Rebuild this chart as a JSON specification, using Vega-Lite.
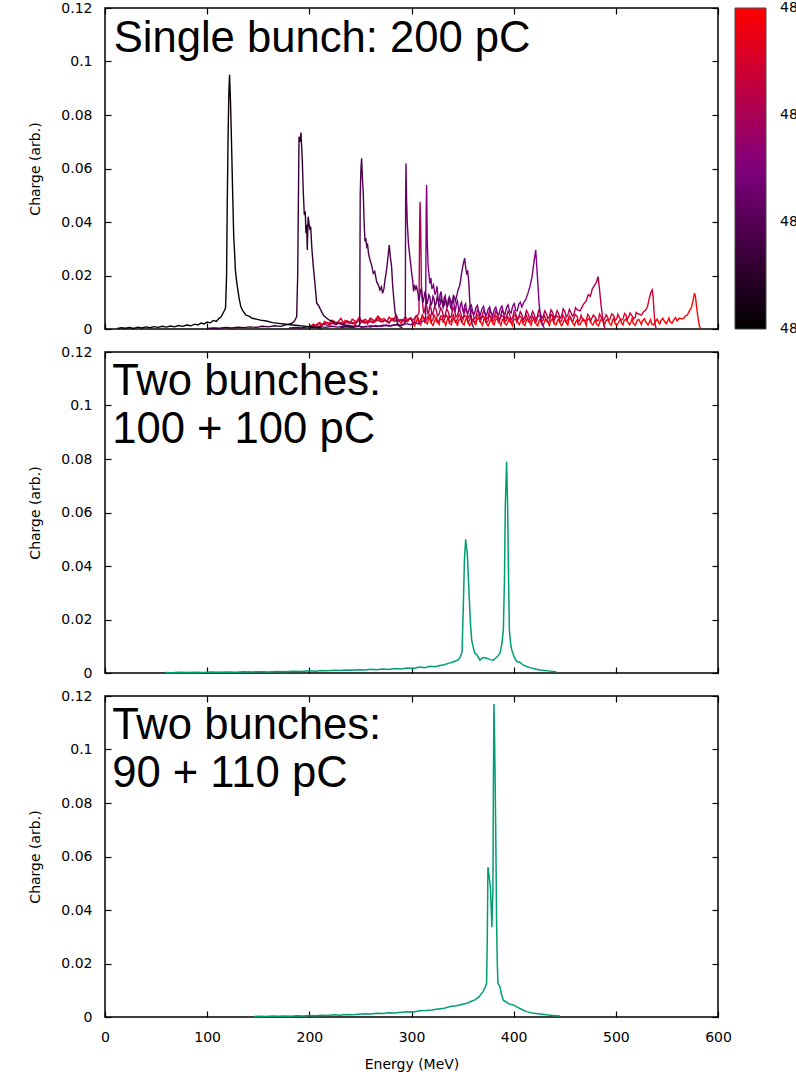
{
"$schema": "https://vega.github.io/schema/vega-lite/v6.json",
"padding": {"left": 28, "top": 0, "right": 0, "bottom": 0},
"bounds": "flush",
"spacing": 23,
"config": {
  "view": {"stroke": "black", "strokeWidth": 1.5},
  "axis": {"grid": false, "domain": false, "tickSize": -6, "tickColor": "black", "tickWidth": 1.2, "labelFont": "DejaVu Sans", "labelFontSize": 14, "labelColor": "black", "labelPadding": 19, "labelFlush": false, "titleFont": "DejaVu Sans", "titleFontSize": 14, "titleFontWeight": "normal", "titleColor": "black", "titlePadding": 18}
},
"vconcat": [
{
  "width": 613, "height": 321,
  "data": {"values": [
{"r":4830,"e":200,"q":0.0008},{"r":4830,"e":203,"q":0.0015},{"r":4830,"e":205,"q":0.0010},{"r":4830,"e":209,"q":0.0022},{"r":4830,"e":212,"q":0.0012},{"r":4830,"e":214,"q":0.0018},{"r":4830,"e":218,"q":0.0025},{"r":4830,"e":220,"q":0.0014},{"r":4830,"e":224,"q":0.0030},{"r":4830,"e":226,"q":0.0018},{"r":4830,"e":230,"q":0.0024},{"r":4830,"e":233,"q":0.0016},{"r":4830,"e":235,"q":0.0032},{"r":4830,"e":239,"q":0.0020},{"r":4830,"e":241,"q":0.0027},{"r":4830,"e":245,"q":0.0017},{"r":4830,"e":248,"q":0.0035},{"r":4830,"e":250,"q":0.0022},{"r":4830,"e":254,"q":0.0030},{"r":4830,"e":257,"q":0.0019},{"r":4830,"e":259,"q":0.0038},{"r":4830,"e":263,"q":0.0024},{"r":4830,"e":266,"q":0.0031},{"r":4830,"e":268,"q":0.0045},{"r":4830,"e":272,"q":0.0026},{"r":4830,"e":274,"q":0.0034},{"r":4830,"e":278,"q":0.0022},{"r":4830,"e":281,"q":0.0040},{"r":4830,"e":283,"q":0.0028},{"r":4830,"e":287,"q":0.0033},{"r":4830,"e":290,"q":0.0021},{"r":4830,"e":292,"q":0.0036},{"r":4830,"e":296,"q":0.0027},{"r":4830,"e":299,"q":0.0042},{"r":4830,"e":301,"q":0.0025},{"r":4830,"e":305,"q":0.0032},{"r":4830,"e":308,"q":0.0020},{"r":4830,"e":310,"q":0.0038},{"r":4830,"e":314,"q":0.0027},{"r":4830,"e":317,"q":0.0045},{"r":4830,"e":319,"q":0.0024},{"r":4830,"e":323,"q":0.0033},{"r":4830,"e":326,"q":0.0022},{"r":4830,"e":328,"q":0.0039},{"r":4830,"e":332,"q":0.0028},{"r":4830,"e":335,"q":0.0035},{"r":4830,"e":337,"q":0.0021},{"r":4830,"e":341,"q":0.0041},{"r":4830,"e":344,"q":0.0026},{"r":4830,"e":346,"q":0.0031},{"r":4830,"e":350,"q":0.0020},{"r":4830,"e":353,"q":0.0037},{"r":4830,"e":355,"q":0.0025},{"r":4830,"e":359,"q":0.0030},{"r":4830,"e":362,"q":0.0019},{"r":4830,"e":364,"q":0.0034},{"r":4830,"e":368,"q":0.0024},{"r":4830,"e":371,"q":0.0040},{"r":4830,"e":373,"q":0.0023},{"r":4830,"e":377,"q":0.0029},{"r":4830,"e":380,"q":0.0018},{"r":4830,"e":382,"q":0.0033},{"r":4830,"e":386,"q":0.0025},{"r":4830,"e":389,"q":0.0036},{"r":4830,"e":391,"q":0.0021},{"r":4830,"e":395,"q":0.0030},{"r":4830,"e":398,"q":0.0019},{"r":4830,"e":400,"q":0.0034},{"r":4830,"e":404,"q":0.0026},{"r":4830,"e":407,"q":0.0031},{"r":4830,"e":409,"q":0.0020},{"r":4830,"e":413,"q":0.0037},{"r":4830,"e":416,"q":0.0023},{"r":4830,"e":418,"q":0.0029},{"r":4830,"e":422,"q":0.0018},{"r":4830,"e":425,"q":0.0032},{"r":4830,"e":427,"q":0.0024},{"r":4830,"e":431,"q":0.0035},{"r":4830,"e":434,"q":0.0021},{"r":4830,"e":436,"q":0.0028},{"r":4830,"e":440,"q":0.0019},{"r":4830,"e":443,"q":0.0033},{"r":4830,"e":445,"q":0.0025},{"r":4830,"e":449,"q":0.0030},{"r":4830,"e":452,"q":0.0020},{"r":4830,"e":454,"q":0.0036},{"r":4830,"e":458,"q":0.0022},{"r":4830,"e":461,"q":0.0029},{"r":4830,"e":463,"q":0.0018},{"r":4830,"e":467,"q":0.0031},{"r":4830,"e":470,"q":0.0024},{"r":4830,"e":472,"q":0.0034},{"r":4830,"e":476,"q":0.0021},{"r":4830,"e":479,"q":0.0027},{"r":4830,"e":481,"q":0.0019},{"r":4830,"e":485,"q":0.0032},{"r":4830,"e":488,"q":0.0025},{"r":4830,"e":490,"q":0.0030},{"r":4830,"e":494,"q":0.0020},{"r":4830,"e":497,"q":0.0035},{"r":4830,"e":499,"q":0.0023},{"r":4830,"e":503,"q":0.0028},{"r":4830,"e":506,"q":0.0019},{"r":4830,"e":508,"q":0.0031},{"r":4830,"e":512,"q":0.0024},{"r":4830,"e":515,"q":0.0029},{"r":4830,"e":517,"q":0.0021},{"r":4830,"e":521,"q":0.0033},{"r":4830,"e":524,"q":0.0025},{"r":4830,"e":526,"q":0.0030},{"r":4830,"e":530,"q":0.0022},{"r":4830,"e":533,"q":0.0027},{"r":4830,"e":535,"q":0.0020},{"r":4830,"e":539,"q":0.0029},{"r":4830,"e":542,"q":0.0024},{"r":4830,"e":544,"q":0.0031},{"r":4830,"e":548,"q":0.0026},{"r":4830,"e":551,"q":0.0033},{"r":4830,"e":553,"q":0.0028},{"r":4830,"e":557,"q":0.0036},{"r":4830,"e":560,"q":0.0030},{"r":4830,"e":562,"q":0.0040},{"r":4830,"e":566,"q":0.0038},{"r":4830,"e":568,"q":0.0048},{"r":4830,"e":570,"q":0.0052},{"r":4830,"e":572,"q":0.0068},{"r":4830,"e":574,"q":0.0080},{"r":4830,"e":575.5,"q":0.0105},{"r":4830,"e":577,"q":0.0134},{"r":4830,"e":578,"q":0.0120},{"r":4830,"e":579,"q":0.0084},{"r":4830,"e":580.5,"q":0.0040},{"r":4830,"e":582,"q":0.0008},{"r":4830,"e":583,"q":0.0002},
{"r":4830,"e":303,"q":0.0012},{"r":4830,"e":306.5,"q":0.0041},{"r":4830,"e":309,"q":0.0015},{"r":4830,"e":312,"q":0.0044},{"r":4830,"e":315.5,"q":0.0019},{"r":4830,"e":318,"q":0.0036},{"r":4830,"e":321,"q":0.0013},{"r":4830,"e":324.5,"q":0.0042},{"r":4830,"e":327,"q":0.0017},{"r":4830,"e":330,"q":0.0034},{"r":4830,"e":333.5,"q":0.0014},{"r":4830,"e":336,"q":0.0043},{"r":4830,"e":339,"q":0.0016},{"r":4830,"e":342.5,"q":0.0033},{"r":4830,"e":345,"q":0.0012},{"r":4830,"e":348,"q":0.0039},{"r":4830,"e":351.5,"q":0.0015},{"r":4830,"e":354,"q":0.0041},{"r":4830,"e":357,"q":0.0013},{"r":4830,"e":360.5,"q":0.0036},{"r":4830,"e":363,"q":0.0017},{"r":4830,"e":366,"q":0.0042},{"r":4830,"e":369.5,"q":0.0014},{"r":4830,"e":372,"q":0.0035},{"r":4830,"e":375,"q":0.0012},{"r":4830,"e":378.5,"q":0.0040},{"r":4830,"e":381,"q":0.0016},{"r":4830,"e":384,"q":0.0038},{"r":4830,"e":387.5,"q":0.0013},{"r":4830,"e":390,"q":0.0037},{"r":4830,"e":393,"q":0.0015},{"r":4830,"e":396.5,"q":0.0041},{"r":4830,"e":399,"q":0.0012},{"r":4830,"e":402,"q":0.0036},{"r":4830,"e":405.5,"q":0.0016},{"r":4830,"e":408,"q":0.0039},{"r":4830,"e":411,"q":0.0013},{"r":4830,"e":414.5,"q":0.0035},{"r":4830,"e":417,"q":0.0014},{"r":4830,"e":420,"q":0.0040},{"r":4830,"e":423.5,"q":0.0012},{"r":4830,"e":426,"q":0.0037},{"r":4830,"e":429,"q":0.0015},{"r":4830,"e":432.5,"q":0.0034},{"r":4830,"e":435,"q":0.0013},{"r":4830,"e":438,"q":0.0039},{"r":4830,"e":441.5,"q":0.0016},{"r":4830,"e":444,"q":0.0036},{"r":4830,"e":447,"q":0.0012},{"r":4830,"e":450.5,"q":0.0038},{"r":4830,"e":453,"q":0.0015},{"r":4830,"e":456,"q":0.0040},{"r":4830,"e":459.5,"q":0.0013},{"r":4830,"e":462,"q":0.0034},{"r":4830,"e":465,"q":0.0016},{"r":4830,"e":468.5,"q":0.0037},{"r":4830,"e":471,"q":0.0013},{"r":4830,"e":474,"q":0.0039},{"r":4830,"e":477.5,"q":0.0015},{"r":4830,"e":480,"q":0.0035},{"r":4830,"e":483,"q":0.0012},{"r":4830,"e":486.5,"q":0.0038},{"r":4830,"e":489,"q":0.0016},{"r":4830,"e":492,"q":0.0036},{"r":4830,"e":495.5,"q":0.0014},{"r":4830,"e":498,"q":0.0040},{"r":4830,"e":501,"q":0.0013},{"r":4830,"e":504.5,"q":0.0035},{"r":4830,"e":507,"q":0.0015},{"r":4830,"e":510,"q":0.0037},{"r":4830,"e":513.5,"q":0.0016},{"r":4830,"e":516,"q":0.0039},{"r":4830,"e":519,"q":0.0014},{"r":4830,"e":522.5,"q":0.0036},{"r":4830,"e":525,"q":0.0017},{"r":4830,"e":528,"q":0.0038},{"r":4830,"e":531.5,"q":0.0015},{"r":4830,"e":534,"q":0.0035},{"r":4830,"e":537,"q":0.0016},{"r":4830,"e":540.5,"q":0.0037},{"r":4830,"e":543,"q":0.0019},{"r":4830,"e":546,"q":0.0040},{"r":4830,"e":549.5,"q":0.0020},{"r":4830,"e":552,"q":0.0041},{"r":4830,"e":555,"q":0.0022},{"r":4830,"e":558.5,"q":0.0043},
{"r":4825,"e":201,"q":0.0010},{"r":4825,"e":204,"q":0.0018},{"r":4825,"e":206,"q":0.0012},{"r":4825,"e":210,"q":0.0024},{"r":4825,"e":213,"q":0.0016},{"r":4825,"e":215,"q":0.0028},{"r":4825,"e":219,"q":0.0019},{"r":4825,"e":222,"q":0.0033},{"r":4825,"e":224,"q":0.0021},{"r":4825,"e":228,"q":0.0027},{"r":4825,"e":231,"q":0.0040},{"r":4825,"e":233,"q":0.0024},{"r":4825,"e":237,"q":0.0031},{"r":4825,"e":240,"q":0.0022},{"r":4825,"e":242,"q":0.0037},{"r":4825,"e":246,"q":0.0026},{"r":4825,"e":249,"q":0.0045},{"r":4825,"e":251,"q":0.0029},{"r":4825,"e":255,"q":0.0036},{"r":4825,"e":258,"q":0.0024},{"r":4825,"e":260,"q":0.0041},{"r":4825,"e":264,"q":0.0030},{"r":4825,"e":267,"q":0.0048},{"r":4825,"e":269,"q":0.0033},{"r":4825,"e":273,"q":0.0039},{"r":4825,"e":276,"q":0.0027},{"r":4825,"e":278,"q":0.0044},{"r":4825,"e":282,"q":0.0031},{"r":4825,"e":285,"q":0.0052},{"r":4825,"e":287,"q":0.0035},{"r":4825,"e":291,"q":0.0029},{"r":4825,"e":294,"q":0.0046},{"r":4825,"e":296,"q":0.0033},{"r":4825,"e":300,"q":0.0040},{"r":4825,"e":303,"q":0.0028},{"r":4825,"e":305,"q":0.0050},{"r":4825,"e":309,"q":0.0034},{"r":4825,"e":312,"q":0.0042},{"r":4825,"e":314,"q":0.0030},{"r":4825,"e":318,"q":0.0055},{"r":4825,"e":321,"q":0.0036},{"r":4825,"e":323,"q":0.0044},{"r":4825,"e":327,"q":0.0031},{"r":4825,"e":330,"q":0.0049},{"r":4825,"e":332,"q":0.0035},{"r":4825,"e":336,"q":0.0041},{"r":4825,"e":339,"q":0.0029},{"r":4825,"e":341,"q":0.0053},{"r":4825,"e":345,"q":0.0037},{"r":4825,"e":348,"q":0.0043},{"r":4825,"e":350,"q":0.0032},{"r":4825,"e":354,"q":0.0047},{"r":4825,"e":357,"q":0.0034},{"r":4825,"e":359,"q":0.0040},{"r":4825,"e":363,"q":0.0028},{"r":4825,"e":366,"q":0.0051},{"r":4825,"e":368,"q":0.0036},{"r":4825,"e":372,"q":0.0042},{"r":4825,"e":375,"q":0.0030},{"r":4825,"e":377,"q":0.0048},{"r":4825,"e":381,"q":0.0035},{"r":4825,"e":384,"q":0.0041},{"r":4825,"e":386,"q":0.0029},{"r":4825,"e":390,"q":0.0046},{"r":4825,"e":393,"q":0.0033},{"r":4825,"e":395,"q":0.0039},{"r":4825,"e":399,"q":0.0027},{"r":4825,"e":402,"q":0.0050},{"r":4825,"e":404,"q":0.0034},{"r":4825,"e":408,"q":0.0040},{"r":4825,"e":411,"q":0.0031},{"r":4825,"e":413,"q":0.0045},{"r":4825,"e":417,"q":0.0032},{"r":4825,"e":420,"q":0.0038},{"r":4825,"e":422,"q":0.0028},{"r":4825,"e":426,"q":0.0047},{"r":4825,"e":429,"q":0.0035},{"r":4825,"e":431,"q":0.0042},{"r":4825,"e":435,"q":0.0030},{"r":4825,"e":438,"q":0.0049},{"r":4825,"e":440,"q":0.0036},{"r":4825,"e":444,"q":0.0043},{"r":4825,"e":447,"q":0.0031},{"r":4825,"e":449,"q":0.0046},{"r":4825,"e":453,"q":0.0034},{"r":4825,"e":456,"q":0.0040},{"r":4825,"e":458,"q":0.0029},{"r":4825,"e":462,"q":0.0048},{"r":4825,"e":465,"q":0.0035},{"r":4825,"e":467,"q":0.0041},{"r":4825,"e":471,"q":0.0032},{"r":4825,"e":474,"q":0.0047},{"r":4825,"e":476,"q":0.0036},{"r":4825,"e":480,"q":0.0043},{"r":4825,"e":483,"q":0.0033},{"r":4825,"e":485,"q":0.0050},{"r":4825,"e":489,"q":0.0038},{"r":4825,"e":492,"q":0.0044},{"r":4825,"e":494,"q":0.0035},{"r":4825,"e":498,"q":0.0049},{"r":4825,"e":501,"q":0.0039},{"r":4825,"e":503,"q":0.0046},{"r":4825,"e":507,"q":0.0037},{"r":4825,"e":510,"q":0.0052},{"r":4825,"e":512,"q":0.0041},{"r":4825,"e":516,"q":0.0048},{"r":4825,"e":519,"q":0.0044},{"r":4825,"e":521,"q":0.0058},{"r":4825,"e":525,"q":0.0052},{"r":4825,"e":527,"q":0.0064},{"r":4825,"e":529,"q":0.0070},{"r":4825,"e":531,"q":0.0084},{"r":4825,"e":532.5,"q":0.0110},{"r":4825,"e":534,"q":0.0134},{"r":4825,"e":535.5,"q":0.0146},{"r":4825,"e":536.5,"q":0.0120},{"r":4825,"e":537.5,"q":0.0059},{"r":4825,"e":538.5,"q":0.0015},{"r":4825,"e":539.5,"q":0.0002},
{"r":4825,"e":301.5,"q":0.0022},{"r":4825,"e":304,"q":0.0048},{"r":4825,"e":307,"q":0.0024},{"r":4825,"e":310.5,"q":0.0053},{"r":4825,"e":313,"q":0.0025},{"r":4825,"e":316,"q":0.0046},{"r":4825,"e":319.5,"q":0.0027},{"r":4825,"e":322,"q":0.0054},{"r":4825,"e":325,"q":0.0026},{"r":4825,"e":328.5,"q":0.0049},{"r":4825,"e":331,"q":0.0024},{"r":4825,"e":334,"q":0.0052},{"r":4825,"e":337.5,"q":0.0026},{"r":4825,"e":340,"q":0.0047},{"r":4825,"e":343,"q":0.0025},{"r":4825,"e":346.5,"q":0.0055},{"r":4825,"e":349,"q":0.0027},{"r":4825,"e":352,"q":0.0050},{"r":4825,"e":355.5,"q":0.0024},{"r":4825,"e":358,"q":0.0048},{"r":4825,"e":361,"q":0.0026},{"r":4825,"e":364.5,"q":0.0053},{"r":4825,"e":367,"q":0.0025},{"r":4825,"e":370,"q":0.0049},{"r":4825,"e":373.5,"q":0.0024},{"r":4825,"e":376,"q":0.0054},{"r":4825,"e":379,"q":0.0027},{"r":4825,"e":382.5,"q":0.0050},{"r":4825,"e":385,"q":0.0025},{"r":4825,"e":388,"q":0.0052},{"r":4825,"e":391.5,"q":0.0026},{"r":4825,"e":394,"q":0.0047},{"r":4825,"e":397,"q":0.0024},{"r":4825,"e":400.5,"q":0.0053},{"r":4825,"e":403,"q":0.0027},{"r":4825,"e":406,"q":0.0049},{"r":4825,"e":409.5,"q":0.0025},{"r":4825,"e":412,"q":0.0054},{"r":4825,"e":415,"q":0.0026},{"r":4825,"e":418.5,"q":0.0048},{"r":4825,"e":421,"q":0.0024},{"r":4825,"e":424,"q":0.0052},{"r":4825,"e":427.5,"q":0.0027},{"r":4825,"e":430,"q":0.0050},{"r":4825,"e":433,"q":0.0025},{"r":4825,"e":436.5,"q":0.0055},{"r":4825,"e":439,"q":0.0026},{"r":4825,"e":442,"q":0.0049},{"r":4825,"e":445.5,"q":0.0027},{"r":4825,"e":448,"q":0.0053},{"r":4825,"e":451,"q":0.0026},{"r":4825,"e":454.5,"q":0.0050},{"r":4825,"e":457,"q":0.0028},{"r":4825,"e":460,"q":0.0054},{"r":4825,"e":463.5,"q":0.0027},{"r":4825,"e":466,"q":0.0051},{"r":4825,"e":469,"q":0.0029},{"r":4825,"e":472.5,"q":0.0055},{"r":4825,"e":475,"q":0.0028},{"r":4825,"e":478,"q":0.0052},{"r":4825,"e":481.5,"q":0.0030},{"r":4825,"e":484,"q":0.0056},{"r":4825,"e":487,"q":0.0030},{"r":4825,"e":490.5,"q":0.0053},{"r":4825,"e":493,"q":0.0031},{"r":4825,"e":496,"q":0.0057},{"r":4825,"e":499.5,"q":0.0032},{"r":4825,"e":502,"q":0.0055},{"r":4825,"e":505,"q":0.0033},{"r":4825,"e":508.5,"q":0.0058},{"r":4825,"e":511,"q":0.0035},{"r":4825,"e":514,"q":0.0060},{"r":4825,"e":517.5,"q":0.0038},{"r":4825,"e":520,"q":0.0062},
{"r":4821,"e":202,"q":0.0008},{"r":4821,"e":206,"q":0.0014},{"r":4821,"e":210,"q":0.0010},{"r":4821,"e":214,"q":0.0019},{"r":4821,"e":218,"q":0.0013},{"r":4821,"e":222,"q":0.0022},{"r":4821,"e":226,"q":0.0016},{"r":4821,"e":230,"q":0.0025},{"r":4821,"e":234,"q":0.0018},{"r":4821,"e":238,"q":0.0029},{"r":4821,"e":242,"q":0.0020},{"r":4821,"e":246,"q":0.0026},{"r":4821,"e":250,"q":0.0034},{"r":4821,"e":254,"q":0.0022},{"r":4821,"e":258,"q":0.0030},{"r":4821,"e":262,"q":0.0024},{"r":4821,"e":266,"q":0.0036},{"r":4821,"e":270,"q":0.0027},{"r":4821,"e":274,"q":0.0032},{"r":4821,"e":278,"q":0.0025},{"r":4821,"e":282,"q":0.0038},{"r":4821,"e":286,"q":0.0029},{"r":4821,"e":290,"q":0.0035},{"r":4821,"e":294,"q":0.0027},{"r":4821,"e":298,"q":0.0040},{"r":4821,"e":301,"q":0.0032},{"r":4821,"e":304,"q":0.0045},{"r":4821,"e":306,"q":0.0050},{"r":4821,"e":307.3,"q":0.0060},{"r":4821,"e":308,"q":0.0400},{"r":4821,"e":308.4,"q":0.0476},{"r":4821,"e":309,"q":0.0380},{"r":4821,"e":309.7,"q":0.0160},{"r":4821,"e":311,"q":0.0090},{"r":4821,"e":313,"q":0.0072},{"r":4821,"e":315,"q":0.0085},{"r":4821,"e":317,"q":0.0065},{"r":4821,"e":319,"q":0.0078},{"r":4821,"e":321,"q":0.0060},{"r":4821,"e":324,"q":0.0074},{"r":4821,"e":327,"q":0.0055},{"r":4821,"e":330,"q":0.0068},{"r":4821,"e":333,"q":0.0052},{"r":4821,"e":336,"q":0.0064},{"r":4821,"e":339,"q":0.0049},{"r":4821,"e":342,"q":0.0070},{"r":4821,"e":345,"q":0.0053},{"r":4821,"e":348,"q":0.0062},{"r":4821,"e":351,"q":0.0047},{"r":4821,"e":354,"q":0.0066},{"r":4821,"e":357,"q":0.0050},{"r":4821,"e":360,"q":0.0059},{"r":4821,"e":363,"q":0.0045},{"r":4821,"e":366,"q":0.0063},{"r":4821,"e":369,"q":0.0048},{"r":4821,"e":372,"q":0.0057},{"r":4821,"e":375,"q":0.0044},{"r":4821,"e":378,"q":0.0061},{"r":4821,"e":381,"q":0.0049},{"r":4821,"e":384,"q":0.0056},{"r":4821,"e":387,"q":0.0043},{"r":4821,"e":390,"q":0.0060},{"r":4821,"e":393,"q":0.0047},{"r":4821,"e":396,"q":0.0055},{"r":4821,"e":399,"q":0.0042},{"r":4821,"e":402,"q":0.0058},{"r":4821,"e":405,"q":0.0046},{"r":4821,"e":408,"q":0.0054},{"r":4821,"e":411,"q":0.0043},{"r":4821,"e":414,"q":0.0059},{"r":4821,"e":417,"q":0.0047},{"r":4821,"e":420,"q":0.0055},{"r":4821,"e":423,"q":0.0044},{"r":4821,"e":426,"q":0.0061},{"r":4821,"e":429,"q":0.0049},{"r":4821,"e":432,"q":0.0057},{"r":4821,"e":435,"q":0.0046},{"r":4821,"e":438,"q":0.0063},{"r":4821,"e":441,"q":0.0050},{"r":4821,"e":444,"q":0.0058},{"r":4821,"e":447,"q":0.0048},{"r":4821,"e":450,"q":0.0066},{"r":4821,"e":453,"q":0.0053},{"r":4821,"e":456,"q":0.0062},{"r":4821,"e":459,"q":0.0055},{"r":4821,"e":462,"q":0.0072},{"r":4821,"e":465,"q":0.0068},{"r":4821,"e":468,"q":0.0090},{"r":4821,"e":471,"q":0.0105},{"r":4821,"e":473,"q":0.0128},{"r":4821,"e":475,"q":0.0122},{"r":4821,"e":477,"q":0.0150},{"r":4821,"e":479,"q":0.0162},{"r":4821,"e":481,"q":0.0175},{"r":4821,"e":482.6,"q":0.0196},{"r":4821,"e":484,"q":0.0150},{"r":4821,"e":485.5,"q":0.0090},{"r":4821,"e":487,"q":0.0045},{"r":4821,"e":488.5,"q":0.0010},{"r":4821,"e":489.5,"q":0.0002},
{"r":4821,"e":312,"q":0.0058},{"r":4821,"e":314,"q":0.0092},{"r":4821,"e":316,"q":0.0055},{"r":4821,"e":318,"q":0.0088},{"r":4821,"e":320,"q":0.0052},{"r":4821,"e":322.5,"q":0.0082},{"r":4821,"e":325.5,"q":0.0048},{"r":4821,"e":328.5,"q":0.0079},{"r":4821,"e":331.5,"q":0.0045},{"r":4821,"e":334.5,"q":0.0076},{"r":4821,"e":337.5,"q":0.0042},{"r":4821,"e":340.5,"q":0.0080},{"r":4821,"e":343.5,"q":0.0044},{"r":4821,"e":346.5,"q":0.0074},{"r":4821,"e":349.5,"q":0.0040},{"r":4821,"e":352.5,"q":0.0075},{"r":4821,"e":355.5,"q":0.0041},{"r":4821,"e":358.5,"q":0.0070},{"r":4821,"e":361.5,"q":0.0038},{"r":4821,"e":364.5,"q":0.0072},{"r":4821,"e":367.5,"q":0.0039},{"r":4821,"e":370.5,"q":0.0068},{"r":4821,"e":373.5,"q":0.0037},{"r":4821,"e":376.5,"q":0.0070},{"r":4821,"e":379.5,"q":0.0040},{"r":4821,"e":382.5,"q":0.0067},{"r":4821,"e":385.5,"q":0.0036},{"r":4821,"e":388.5,"q":0.0069},{"r":4821,"e":391.5,"q":0.0038},{"r":4821,"e":394.5,"q":0.0066},{"r":4821,"e":397.5,"q":0.0035},{"r":4821,"e":400.5,"q":0.0068},{"r":4821,"e":403.5,"q":0.0037},{"r":4821,"e":406.5,"q":0.0065},{"r":4821,"e":409.5,"q":0.0036},{"r":4821,"e":412.5,"q":0.0069},{"r":4821,"e":415.5,"q":0.0038},{"r":4821,"e":418.5,"q":0.0066},{"r":4821,"e":421.5,"q":0.0037},{"r":4821,"e":424.5,"q":0.0070},{"r":4821,"e":427.5,"q":0.0040},{"r":4821,"e":430.5,"q":0.0068},{"r":4821,"e":433.5,"q":0.0039},{"r":4821,"e":436.5,"q":0.0072},{"r":4821,"e":439.5,"q":0.0041},{"r":4821,"e":442.5,"q":0.0069},{"r":4821,"e":445.5,"q":0.0040},{"r":4821,"e":448.5,"q":0.0075},{"r":4821,"e":451.5,"q":0.0044},{"r":4821,"e":454.5,"q":0.0073},{"r":4821,"e":457.5,"q":0.0048},{"r":4821,"e":460.5,"q":0.0080},
{"r":4815,"e":250,"q":0.0005},{"r":4815,"e":255,"q":0.0010},{"r":4815,"e":260,"q":0.0007},{"r":4815,"e":265,"q":0.0013},{"r":4815,"e":270,"q":0.0009},{"r":4815,"e":275,"q":0.0015},{"r":4815,"e":280,"q":0.0011},{"r":4815,"e":285,"q":0.0018},{"r":4815,"e":290,"q":0.0013},{"r":4815,"e":295,"q":0.0020},{"r":4815,"e":299,"q":0.0016},{"r":4815,"e":303,"q":0.0024},{"r":4815,"e":307,"q":0.0019},{"r":4815,"e":310,"q":0.0027},{"r":4815,"e":312,"q":0.0030},{"r":4815,"e":313.8,"q":0.0040},{"r":4815,"e":314.4,"q":0.0450},{"r":4815,"e":314.8,"q":0.0538},{"r":4815,"e":315.4,"q":0.0333},{"r":4815,"e":316.2,"q":0.0240},{"r":4815,"e":317,"q":0.0208},{"r":4815,"e":318,"q":0.0170},{"r":4815,"e":319,"q":0.0190},{"r":4815,"e":320,"q":0.0150},{"r":4815,"e":321.5,"q":0.0165},{"r":4815,"e":323,"q":0.0128},{"r":4815,"e":324.5,"q":0.0145},{"r":4815,"e":326,"q":0.0112},{"r":4815,"e":328,"q":0.0130},{"r":4815,"e":330,"q":0.0098},{"r":4815,"e":332,"q":0.0118},{"r":4815,"e":334,"q":0.0090},{"r":4815,"e":336,"q":0.0110},{"r":4815,"e":338,"q":0.0085},{"r":4815,"e":340,"q":0.0102},{"r":4815,"e":342,"q":0.0080},{"r":4815,"e":344,"q":0.0097},{"r":4815,"e":346,"q":0.0076},{"r":4815,"e":348,"q":0.0093},{"r":4815,"e":350,"q":0.0072},{"r":4815,"e":352,"q":0.0088},{"r":4815,"e":354,"q":0.0068},{"r":4815,"e":357,"q":0.0084},{"r":4815,"e":360,"q":0.0063},{"r":4815,"e":363,"q":0.0079},{"r":4815,"e":366,"q":0.0060},{"r":4815,"e":369,"q":0.0076},{"r":4815,"e":372,"q":0.0058},{"r":4815,"e":375,"q":0.0074},{"r":4815,"e":378,"q":0.0057},{"r":4815,"e":381,"q":0.0073},{"r":4815,"e":384,"q":0.0059},{"r":4815,"e":387,"q":0.0077},{"r":4815,"e":390,"q":0.0061},{"r":4815,"e":393,"q":0.0080},{"r":4815,"e":396,"q":0.0065},{"r":4815,"e":399,"q":0.0085},{"r":4815,"e":402,"q":0.0070},{"r":4815,"e":405,"q":0.0092},{"r":4815,"e":408,"q":0.0082},{"r":4815,"e":410,"q":0.0100},{"r":4815,"e":412,"q":0.0112},{"r":4815,"e":414,"q":0.0134},{"r":4815,"e":416,"q":0.0160},{"r":4815,"e":418,"q":0.0195},{"r":4815,"e":420,"q":0.0255},{"r":4815,"e":421.6,"q":0.0295},{"r":4815,"e":422.5,"q":0.0240},{"r":4815,"e":423.5,"q":0.0180},{"r":4815,"e":425,"q":0.0090},{"r":4815,"e":426.5,"q":0.0040},{"r":4815,"e":428,"q":0.0015},{"r":4815,"e":430,"q":0.0004},
{"r":4815,"e":325,"q":0.0160},{"r":4815,"e":327,"q":0.0100},{"r":4815,"e":329,"q":0.0140},{"r":4815,"e":331,"q":0.0085},{"r":4815,"e":333,"q":0.0125},{"r":4815,"e":335,"q":0.0080},{"r":4815,"e":337,"q":0.0118},{"r":4815,"e":339,"q":0.0075},{"r":4815,"e":341,"q":0.0110},{"r":4815,"e":343,"q":0.0070},{"r":4815,"e":345,"q":0.0105},{"r":4815,"e":347,"q":0.0066},{"r":4815,"e":349,"q":0.0100},{"r":4815,"e":351,"q":0.0062},{"r":4815,"e":353,"q":0.0095},{"r":4815,"e":355.5,"q":0.0060},{"r":4815,"e":358.5,"q":0.0090},{"r":4815,"e":361.5,"q":0.0056},{"r":4815,"e":364.5,"q":0.0088},{"r":4815,"e":367.5,"q":0.0054},{"r":4815,"e":370.5,"q":0.0085},{"r":4815,"e":373.5,"q":0.0052},{"r":4815,"e":376.5,"q":0.0083},{"r":4815,"e":379.5,"q":0.0051},{"r":4815,"e":382.5,"q":0.0082},{"r":4815,"e":385.5,"q":0.0053},{"r":4815,"e":388.5,"q":0.0086},{"r":4815,"e":391.5,"q":0.0055},{"r":4815,"e":394.5,"q":0.0090},{"r":4815,"e":397.5,"q":0.0060},{"r":4815,"e":400.5,"q":0.0095},{"r":4815,"e":403.5,"q":0.0068},{"r":4815,"e":406.5,"q":0.0100},
{"r":4812,"e":230,"q":0.0004},{"r":4812,"e":236,"q":0.0008},{"r":4812,"e":242,"q":0.0005},{"r":4812,"e":248,"q":0.0010},{"r":4812,"e":254,"q":0.0007},{"r":4812,"e":260,"q":0.0012},{"r":4812,"e":266,"q":0.0009},{"r":4812,"e":272,"q":0.0014},{"r":4812,"e":278,"q":0.0011},{"r":4812,"e":284,"q":0.0016},{"r":4812,"e":289,"q":0.0013},{"r":4812,"e":292,"q":0.0018},{"r":4812,"e":293.9,"q":0.0025},{"r":4812,"e":294.3,"q":0.0500},{"r":4812,"e":294.6,"q":0.0619},{"r":4812,"e":295.2,"q":0.0480},{"r":4812,"e":295.9,"q":0.0395},{"r":4812,"e":297,"q":0.0320},{"r":4812,"e":298,"q":0.0283},{"r":4812,"e":299,"q":0.0250},{"r":4812,"e":300.2,"q":0.0208},{"r":4812,"e":301.2,"q":0.0180},{"r":4812,"e":302,"q":0.0140},{"r":4812,"e":303,"q":0.0165},{"r":4812,"e":304,"q":0.0150},{"r":4812,"e":305,"q":0.0158},{"r":4812,"e":306.5,"q":0.0130},{"r":4812,"e":308,"q":0.0121},{"r":4812,"e":310,"q":0.0140},{"r":4812,"e":312,"q":0.0112},{"r":4812,"e":314,"q":0.0128},{"r":4812,"e":316,"q":0.0105},{"r":4812,"e":318,"q":0.0120},{"r":4812,"e":320,"q":0.0098},{"r":4812,"e":322,"q":0.0112},{"r":4812,"e":324,"q":0.0094},{"r":4812,"e":326,"q":0.0108},{"r":4812,"e":328,"q":0.0092},{"r":4812,"e":330,"q":0.0105},{"r":4812,"e":332,"q":0.0090},{"r":4812,"e":334,"q":0.0102},{"r":4812,"e":336,"q":0.0094},{"r":4812,"e":338,"q":0.0110},{"r":4812,"e":340,"q":0.0104},{"r":4812,"e":342,"q":0.0121},{"r":4812,"e":344,"q":0.0118},{"r":4812,"e":345.5,"q":0.0145},{"r":4812,"e":347,"q":0.0160},{"r":4812,"e":348,"q":0.0180},{"r":4812,"e":349,"q":0.0208},{"r":4812,"e":350.5,"q":0.0240},{"r":4812,"e":352,"q":0.0265},{"r":4812,"e":353,"q":0.0230},{"r":4812,"e":354,"q":0.0208},{"r":4812,"e":355,"q":0.0215},{"r":4812,"e":356,"q":0.0180},{"r":4812,"e":357.3,"q":0.0084},{"r":4812,"e":358.5,"q":0.0040},{"r":4812,"e":359.5,"q":0.0015},{"r":4812,"e":361,"q":0.0005},
{"r":4812,"e":307,"q":0.0105},{"r":4812,"e":309,"q":0.0150},{"r":4812,"e":311,"q":0.0098},{"r":4812,"e":313,"q":0.0135},{"r":4812,"e":315,"q":0.0092},{"r":4812,"e":317,"q":0.0128},{"r":4812,"e":319,"q":0.0088},{"r":4812,"e":321,"q":0.0122},{"r":4812,"e":323,"q":0.0085},{"r":4812,"e":325,"q":0.0118},{"r":4812,"e":327,"q":0.0082},{"r":4812,"e":329,"q":0.0115},{"r":4812,"e":331,"q":0.0080},{"r":4812,"e":333,"q":0.0112},{"r":4812,"e":335,"q":0.0085},{"r":4812,"e":337,"q":0.0118},{"r":4812,"e":339,"q":0.0092},{"r":4812,"e":341,"q":0.0125},{"r":4812,"e":343,"q":0.0105},
{"r":4809,"e":180,"q":0.0003},{"r":4809,"e":186,"q":0.0006},{"r":4809,"e":192,"q":0.0004},{"r":4809,"e":198,"q":0.0008},{"r":4809,"e":204,"q":0.0005},{"r":4809,"e":210,"q":0.0009},{"r":4809,"e":216,"q":0.0006},{"r":4809,"e":222,"q":0.0010},{"r":4809,"e":228,"q":0.0007},{"r":4809,"e":234,"q":0.0011},{"r":4809,"e":240,"q":0.0008},{"r":4809,"e":245,"q":0.0012},{"r":4809,"e":248,"q":0.0010},{"r":4809,"e":249.3,"q":0.0015},{"r":4809,"e":249.8,"q":0.0500},{"r":4809,"e":250.5,"q":0.0600},{"r":4809,"e":251.2,"q":0.0638},{"r":4809,"e":252,"q":0.0560},{"r":4809,"e":252.8,"q":0.0507},{"r":4809,"e":253.6,"q":0.0400},{"r":4809,"e":254.5,"q":0.0327},{"r":4809,"e":255.3,"q":0.0340},{"r":4809,"e":256.1,"q":0.0308},{"r":4809,"e":257,"q":0.0315},{"r":4809,"e":258,"q":0.0280},{"r":4809,"e":259.4,"q":0.0258},{"r":4809,"e":261,"q":0.0238},{"r":4809,"e":262.6,"q":0.0208},{"r":4809,"e":264,"q":0.0215},{"r":4809,"e":265.9,"q":0.0177},{"r":4809,"e":267.5,"q":0.0165},{"r":4809,"e":269.1,"q":0.0146},{"r":4809,"e":270.5,"q":0.0158},{"r":4809,"e":271.7,"q":0.0133},{"r":4809,"e":273,"q":0.0150},{"r":4809,"e":274,"q":0.0183},{"r":4809,"e":275.2,"q":0.0210},{"r":4809,"e":276.3,"q":0.0245},{"r":4809,"e":277.3,"q":0.0280},{"r":4809,"e":278.2,"q":0.0314},{"r":4809,"e":279.3,"q":0.0270},{"r":4809,"e":280.5,"q":0.0233},{"r":4809,"e":281.6,"q":0.0160},{"r":4809,"e":282.8,"q":0.0108},{"r":4809,"e":284,"q":0.0060},{"r":4809,"e":285.4,"q":0.0034},{"r":4809,"e":287,"q":0.0015},{"r":4809,"e":288.7,"q":0.0009},{"r":4809,"e":291,"q":0.0004},
{"r":4806,"e":100,"q":0.0002},{"r":4806,"e":106,"q":0.0004},{"r":4806,"e":112,"q":0.0003},{"r":4806,"e":118,"q":0.0006},{"r":4806,"e":124,"q":0.0004},{"r":4806,"e":130,"q":0.0007},{"r":4806,"e":136,"q":0.0005},{"r":4806,"e":142,"q":0.0008},{"r":4806,"e":148,"q":0.0006},{"r":4806,"e":154,"q":0.0010},{"r":4806,"e":160,"q":0.0008},{"r":4806,"e":166,"q":0.0012},{"r":4806,"e":172,"q":0.0010},{"r":4806,"e":176,"q":0.0015},{"r":4806,"e":180,"q":0.0018},{"r":4806,"e":183,"q":0.0022},{"r":4806,"e":185.5,"q":0.0030},{"r":4806,"e":187.6,"q":0.0046},{"r":4806,"e":188.6,"q":0.0200},{"r":4806,"e":189.9,"q":0.0719},{"r":4806,"e":191,"q":0.0700},{"r":4806,"e":191.8,"q":0.0734},{"r":4806,"e":193.1,"q":0.0632},{"r":4806,"e":194,"q":0.0520},{"r":4806,"e":195.1,"q":0.0426},{"r":4806,"e":196,"q":0.0440},{"r":4806,"e":196.7,"q":0.0358},{"r":4806,"e":197.4,"q":0.0390},{"r":4806,"e":198,"q":0.0295},{"r":4806,"e":198.8,"q":0.0420},{"r":4806,"e":199.7,"q":0.0395},{"r":4806,"e":200.5,"q":0.0370},{"r":4806,"e":201.3,"q":0.0383},{"r":4806,"e":202.5,"q":0.0300},{"r":4806,"e":203.9,"q":0.0233},{"r":4806,"e":205.5,"q":0.0170},{"r":4806,"e":207.2,"q":0.0096},{"r":4806,"e":208.8,"q":0.0090},{"r":4806,"e":210.4,"q":0.0077},{"r":4806,"e":212,"q":0.0065},{"r":4806,"e":214,"q":0.0050},{"r":4806,"e":217,"q":0.0040},{"r":4806,"e":220,"q":0.0032},{"r":4806,"e":223.5,"q":0.0027},{"r":4806,"e":227,"q":0.0022},{"r":4806,"e":231,"q":0.0018},{"r":4806,"e":235,"q":0.0015},{"r":4806,"e":239.8,"q":0.0012},{"r":4806,"e":244,"q":0.0008},
{"r":4801,"e":12,"q":0.0002},{"r":4801,"e":16,"q":0.0005},{"r":4801,"e":20,"q":0.0003},{"r":4801,"e":24,"q":0.0006},{"r":4801,"e":28,"q":0.0002},{"r":4801,"e":32,"q":0.0007},{"r":4801,"e":36,"q":0.0004},{"r":4801,"e":40,"q":0.0008},{"r":4801,"e":44,"q":0.0005},{"r":4801,"e":48,"q":0.0009},{"r":4801,"e":52,"q":0.0006},{"r":4801,"e":56,"q":0.0010},{"r":4801,"e":60,"q":0.0007},{"r":4801,"e":64,"q":0.0011},{"r":4801,"e":68,"q":0.0008},{"r":4801,"e":72,"q":0.0013},{"r":4801,"e":76,"q":0.0010},{"r":4801,"e":80,"q":0.0015},{"r":4801,"e":84,"q":0.0012},{"r":4801,"e":88,"q":0.0018},{"r":4801,"e":91,"q":0.0015},{"r":4801,"e":94,"q":0.0022},{"r":4801,"e":97,"q":0.0019},{"r":4801,"e":100,"q":0.0026},{"r":4801,"e":103,"q":0.0023},{"r":4801,"e":106,"q":0.0032},{"r":4801,"e":109,"q":0.0028},{"r":4801,"e":111.5,"q":0.0040},{"r":4801,"e":113.5,"q":0.0045},{"r":4801,"e":115.5,"q":0.0059},{"r":4801,"e":117,"q":0.0070},{"r":4801,"e":118,"q":0.0079},{"r":4801,"e":119,"q":0.0200},{"r":4801,"e":119.6,"q":0.0445},{"r":4801,"e":120.4,"q":0.0700},{"r":4801,"e":121.2,"q":0.0880},{"r":4801,"e":121.9,"q":0.0950},{"r":4801,"e":122.8,"q":0.0856},{"r":4801,"e":123.5,"q":0.0750},{"r":4801,"e":124,"q":0.0670},{"r":4801,"e":125,"q":0.0500},{"r":4801,"e":126,"q":0.0345},{"r":4801,"e":126.8,"q":0.0290},{"r":4801,"e":127.6,"q":0.0220},{"r":4801,"e":128.8,"q":0.0180},{"r":4801,"e":130,"q":0.0146},{"r":4801,"e":131.5,"q":0.0110},{"r":4801,"e":133,"q":0.0083},{"r":4801,"e":135,"q":0.0068},{"r":4801,"e":138,"q":0.0052},{"r":4801,"e":141,"q":0.0048},{"r":4801,"e":144,"q":0.0040},{"r":4801,"e":148,"q":0.0037},{"r":4801,"e":152,"q":0.0033},{"r":4801,"e":158,"q":0.0030},{"r":4801,"e":164,"q":0.0024},{"r":4801,"e":170,"q":0.0021},{"r":4801,"e":177,"q":0.0018},{"r":4801,"e":184,"q":0.0015},{"r":4801,"e":191,"q":0.0012},{"r":4801,"e":197,"q":0.0010},{"r":4801,"e":204,"q":0.0007},{"r":4801,"e":212,"q":0.0004}
  ]},
  "layer": [
    {"mark": {"type": "line", "strokeWidth": 1.4},
     "encoding": {
       "x": {"field": "e", "type": "quantitative", "scale": {"domain": [0, 600], "nice": false}, "axis": {"values": [0,100,200,300,400,500,600], "labels": false, "title": null}},
       "y": {"field": "q", "type": "quantitative", "scale": {"domain": [0, 0.12], "nice": false}, "axis": {"values": [0,0.02,0.04,0.06,0.08,0.1,0.12], "format": ".2~f", "title": "Charge (arb.)"}},
       "color": {"field": "r", "type": "quantitative", "scale": {"domain": [4800, 4815, 4830], "range": ["#000000", "#800080", "#ff0000"], "interpolate": "rgb"},
         "legend": {"orient": "none", "legendX": 630, "legendY": 0, "direction": "vertical", "gradientLength": 321, "gradientThickness": 31, "title": null, "values": [4800, 4810, 4820, 4830], "format": "d", "labelFont": "DejaVu Sans", "labelFontSize": 14, "labelColor": "black", "labelOffset": 14, "gradientStrokeColor": "#444444", "gradientStrokeWidth": 1,
           "encode": {"labels": {"update": {"baseline": {"value": "middle"}}}}}},
       "detail": {"field": "r", "type": "nominal"}
     }},
    {"mark": {"type": "line", "strokeOpacity": 0},
     "encoding": {
       "x": {"field": "e", "type": "quantitative", "axis": {"orient": "top", "values": [0,100,200,300,400,500,600], "labels": false, "title": null}},
       "y": {"field": "q", "type": "quantitative", "axis": {"orient": "right", "values": [0,0.02,0.04,0.06,0.08,0.1,0.12], "labels": false, "title": null}}
     }},
    {"data": {"values": [{"t": "Single bunch: 200 pC", "e": 8.5, "q": 0.1036}]},
     "mark": {"type": "text", "font": "Liberation Sans", "fontSize": 43.6, "align": "left", "baseline": "alphabetic", "color": "black"},
     "encoding": {"x": {"field": "e", "type": "quantitative", "axis": null}, "y": {"field": "q", "type": "quantitative", "axis": null}, "text": {"field": "t"}}}
  ],
  "resolve": {"axis": {"x": "independent", "y": "independent"}}
},
{
  "width": 613, "height": 321,
  "data": {"values": [
{"e":59,"q":0.0002},{"e":65,"q":0.0001},{"e":72,"q":0.0003},{"e":80,"q":0.0002},{"e":88,"q":0.0003},{"e":96,"q":0.0002},{"e":104,"q":0.0004},{"e":112,"q":0.0003},{"e":120,"q":0.0004},{"e":128,"q":0.0003},{"e":136,"q":0.0005},{"e":144,"q":0.0004},{"e":152,"q":0.0005},{"e":160,"q":0.0004},{"e":168,"q":0.0006},{"e":176,"q":0.0005},{"e":184,"q":0.0007},{"e":192,"q":0.0006},{"e":200,"q":0.0008},{"e":206,"q":0.0007},{"e":212,"q":0.0009},{"e":218,"q":0.0008},{"e":224,"q":0.0010},{"e":230,"q":0.0009},{"e":236,"q":0.0011},{"e":242,"q":0.0010},{"e":248,"q":0.0012},{"e":254,"q":0.0011},{"e":260,"q":0.0014},{"e":266,"q":0.0012},{"e":272,"q":0.0015},{"e":278,"q":0.0013},{"e":284,"q":0.0017},{"e":290,"q":0.0015},{"e":296,"q":0.0019},{"e":302,"q":0.0017},{"e":308,"q":0.0022},{"e":313,"q":0.0020},{"e":318,"q":0.0025},{"e":323,"q":0.0023},{"e":328,"q":0.0028},{"e":332,"q":0.0031},{"e":336,"q":0.0036},{"e":340,"q":0.0040},{"e":343,"q":0.0045},{"e":346,"q":0.0050},{"e":348,"q":0.0062},{"e":349.5,"q":0.0080},{"e":350.7,"q":0.0248},{"e":351.8,"q":0.0420},{"e":353,"q":0.0500},{"e":353.8,"q":0.0470},{"e":354.6,"q":0.0447},{"e":355.6,"q":0.0360},{"e":356.6,"q":0.0273},{"e":357.8,"q":0.0180},{"e":358.9,"q":0.0124},{"e":360.5,"q":0.0095},{"e":362.1,"q":0.0074},{"e":364,"q":0.0068},{"e":367,"q":0.0048},{"e":370,"q":0.0058},{"e":373.6,"q":0.0055},{"e":377,"q":0.0050},{"e":380.1,"q":0.0048},{"e":383,"q":0.0058},{"e":385,"q":0.0065},{"e":386.6,"q":0.0074},{"e":388.5,"q":0.0110},{"e":389.9,"q":0.0160},{"e":391,"q":0.0350},{"e":391.8,"q":0.0622},{"e":393.1,"q":0.0790},{"e":394.1,"q":0.0622},{"e":395,"q":0.0350},{"e":395.8,"q":0.0160},{"e":397,"q":0.0110},{"e":398.1,"q":0.0087},{"e":400.5,"q":0.0060},{"e":403,"q":0.0043},{"e":406,"q":0.0040},{"e":409,"q":0.0030},{"e":412.8,"q":0.0024},{"e":416,"q":0.0020},{"e":420,"q":0.0016},{"e":425.8,"q":0.0011},{"e":431,"q":0.0009},{"e":436,"q":0.0007},{"e":442,"q":0.0004}
  ]},
  "layer": [
    {"mark": {"type": "line", "strokeWidth": 1.5, "color": "#009e73"},
     "encoding": {
       "x": {"field": "e", "type": "quantitative", "scale": {"domain": [0, 600], "nice": false}, "axis": {"values": [0,100,200,300,400,500,600], "labels": false, "title": null}},
       "y": {"field": "q", "type": "quantitative", "scale": {"domain": [0, 0.12], "nice": false}, "axis": {"values": [0,0.02,0.04,0.06,0.08,0.1,0.12], "format": ".2~f", "title": "Charge (arb.)"}}
     }},
    {"mark": {"type": "line", "strokeOpacity": 0},
     "encoding": {
       "x": {"field": "e", "type": "quantitative", "axis": {"orient": "top", "values": [0,100,200,300,400,500,600], "labels": false, "title": null}},
       "y": {"field": "q", "type": "quantitative", "axis": {"orient": "right", "values": [0,0.02,0.04,0.06,0.08,0.1,0.12], "labels": false, "title": null}}
     }},
    {"data": {"values": [{"t": "Two bunches:", "e": 7, "q": 0.1039}, {"t": "100 + 100 pC", "e": 7, "q": 0.086}]},
     "mark": {"type": "text", "font": "Liberation Sans", "fontSize": 43.6, "align": "left", "baseline": "alphabetic", "color": "black"},
     "encoding": {"x": {"field": "e", "type": "quantitative", "axis": null}, "y": {"field": "q", "type": "quantitative", "axis": null}, "text": {"field": "t"}}}
  ],
  "resolve": {"axis": {"x": "independent", "y": "independent"}}
},
{
  "width": 613, "height": 321,
  "data": {"values": [
{"e":146,"q":0.0002},{"e":152,"q":0.0003},{"e":158,"q":0.0002},{"e":164,"q":0.0004},{"e":170,"q":0.0003},{"e":176,"q":0.0004},{"e":182,"q":0.0003},{"e":188,"q":0.0005},{"e":194,"q":0.0004},{"e":200,"q":0.0006},{"e":206,"q":0.0005},{"e":212,"q":0.0007},{"e":218,"q":0.0006},{"e":224,"q":0.0008},{"e":230,"q":0.0007},{"e":236,"q":0.0009},{"e":242,"q":0.0008},{"e":248,"q":0.0010},{"e":254,"q":0.0012},{"e":260,"q":0.0011},{"e":266,"q":0.0014},{"e":272,"q":0.0013},{"e":278,"q":0.0016},{"e":284,"q":0.0015},{"e":290,"q":0.0018},{"e":296,"q":0.0020},{"e":302,"q":0.0019},{"e":308,"q":0.0023},{"e":314,"q":0.0024},{"e":320,"q":0.0026},{"e":326,"q":0.0030},{"e":332,"q":0.0033},{"e":338,"q":0.0039},{"e":344,"q":0.0042},{"e":350,"q":0.0048},{"e":354,"q":0.0051},{"e":358,"q":0.0058},{"e":362,"q":0.0064},{"e":366,"q":0.0075},{"e":370,"q":0.0095},{"e":372,"q":0.0110},{"e":373.5,"q":0.0126},{"e":374.2,"q":0.0300},{"e":374.8,"q":0.0560},{"e":375.5,"q":0.0540},{"e":376.1,"q":0.0523},{"e":376.8,"q":0.0500},{"e":377.4,"q":0.0473},{"e":378.1,"q":0.0400},{"e":378.7,"q":0.0336},{"e":379.2,"q":0.0420},{"e":379.7,"q":0.0473},{"e":380.2,"q":0.0900},{"e":380.7,"q":0.1170},{"e":381.3,"q":0.1050},{"e":382,"q":0.0846},{"e":382.7,"q":0.0600},{"e":383.3,"q":0.0348},{"e":384,"q":0.0200},{"e":384.6,"q":0.0126},{"e":385.5,"q":0.0120},{"e":386.6,"q":0.0113},{"e":388,"q":0.0085},{"e":389.9,"q":0.0063},{"e":393,"q":0.0055},{"e":396,"q":0.0048},{"e":399.6,"q":0.0045},{"e":404,"q":0.0036},{"e":408,"q":0.0028},{"e":412.7,"q":0.0020},{"e":418,"q":0.0015},{"e":425.7,"q":0.0011},{"e":432,"q":0.0008},{"e":438,"q":0.0006},{"e":445.3,"q":0.0004}
  ]},
  "layer": [
    {"mark": {"type": "line", "strokeWidth": 1.5, "color": "#009e73"},
     "encoding": {
       "x": {"field": "e", "type": "quantitative", "scale": {"domain": [0, 600], "nice": false}, "axis": {"values": [0,100,200,300,400,500,600], "title": "Energy (MeV)", "titlePadding": 13}},
       "y": {"field": "q", "type": "quantitative", "scale": {"domain": [0, 0.12], "nice": false}, "axis": {"values": [0,0.02,0.04,0.06,0.08,0.1,0.12], "format": ".2~f", "title": "Charge (arb.)"}}
     }},
    {"mark": {"type": "line", "strokeOpacity": 0},
     "encoding": {
       "x": {"field": "e", "type": "quantitative", "axis": {"orient": "top", "values": [0,100,200,300,400,500,600], "labels": false, "title": null}},
       "y": {"field": "q", "type": "quantitative", "axis": {"orient": "right", "values": [0,0.02,0.04,0.06,0.08,0.1,0.12], "labels": false, "title": null}}
     }},
    {"data": {"values": [{"t": "Two bunches:", "e": 7, "q": 0.1039}, {"t": "90 + 110 pC", "e": 7, "q": 0.086}]},
     "mark": {"type": "text", "font": "Liberation Sans", "fontSize": 43.6, "align": "left", "baseline": "alphabetic", "color": "black"},
     "encoding": {"x": {"field": "e", "type": "quantitative", "axis": null}, "y": {"field": "q", "type": "quantitative", "axis": null}, "text": {"field": "t"}}}
  ],
  "resolve": {"axis": {"x": "independent", "y": "independent"}}
}
]
}
